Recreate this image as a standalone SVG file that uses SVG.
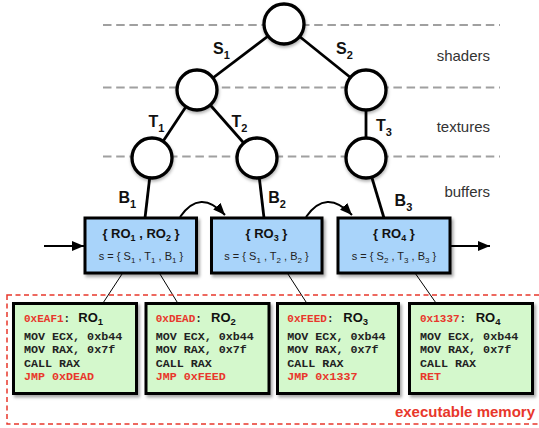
<svg xmlns="http://www.w3.org/2000/svg" width="539" height="428" viewBox="0 0 539 428">
<style>
.bg{fill:#fff}
.guide{stroke:#a0a0a0;stroke-width:2;stroke-dasharray:8.5 4.7;fill:none}
.edge{stroke:#000;stroke-width:2.8;fill:none}
.circ{fill:#fff;stroke:#000;stroke-width:3.3}
.lbl{font-family:"Liberation Sans",Arial,sans-serif;font-weight:bold;font-size:16px;fill:#111}
.layer{font-family:"Liberation Sans",Arial,sans-serif;font-size:15px;fill:#333;text-anchor:end}
.rbox{fill:#a9d4fa;stroke:#000;stroke-width:3}
.t1{font-family:"Liberation Sans",Arial,sans-serif;font-weight:bold;font-size:13px;fill:#111;text-anchor:middle}
.t2{font-family:"Liberation Sans",Arial,sans-serif;font-size:11px;fill:#222;text-anchor:middle}
.arrow{stroke:#000;stroke-width:2;fill:none}
.thin{stroke:#000;stroke-width:1;fill:none}
.mem{fill:none;stroke:#e8372b;stroke-width:1.5;stroke-dasharray:5 3.5}
.cbox{fill:#d4f8cc;stroke:#000;stroke-width:3}
.code{font-family:"Liberation Mono","Courier New",monospace;font-weight:bold;font-size:11.7px;fill:#222}
.addr{font-family:"Liberation Mono","Courier New",monospace;font-weight:bold;font-size:11px;fill:#e8372b}
.ro{font-family:"Liberation Sans",Arial,sans-serif;font-weight:bold;font-size:13px;fill:#111}
.red{fill:#e8372b}
.memlbl{font-family:"Liberation Sans",Arial,sans-serif;font-weight:bold;font-size:15px;fill:#e8372b;text-anchor:end}
</style>
<defs>
<marker id="ah" markerUnits="userSpaceOnUse" markerWidth="13" markerHeight="11" refX="12" refY="5" orient="auto">
<path d="M0,0 L12,5 L0,10 z" fill="#000"/>
</marker>
<filter id="sh" x="-10%" y="-10%" width="125%" height="130%">
<feDropShadow dx="2" dy="2.5" stdDeviation="1.8" flood-color="#000" flood-opacity="0.35"/>
</filter>
<filter id="csh" x="-20%" y="-20%" width="150%" height="150%">
<feDropShadow dx="0.5" dy="2" stdDeviation="1.5" flood-color="#000" flood-opacity="0.3"/>
</filter>
</defs>
<rect class="bg" x="0" y="0" width="539" height="428"/>

<g id="guides">
<line class="guide" x1="103" y1="25" x2="500" y2="25"/>
<line class="guide" x1="103" y1="87.5" x2="500" y2="87.5"/>
<line class="guide" x1="103" y1="156.5" x2="500" y2="156.5"/>
</g>

<g id="layer-labels">
<text class="layer" x="490" y="61">shaders</text>
<text class="layer" x="490" y="132">textures</text>
<text class="layer" x="490" y="197">buffers</text>
</g>

<g id="connectors">
<line class="edge" x1="284" y1="24" x2="197" y2="90"/>
<line class="edge" x1="284" y1="24" x2="366" y2="90"/>
<line class="edge" x1="197" y1="90" x2="152" y2="158"/>
<line class="edge" x1="197" y1="90" x2="257" y2="158"/>
<line class="edge" x1="366" y1="90" x2="366" y2="158"/>
<line class="edge" x1="152" y1="158" x2="145" y2="218"/>
<line class="edge" x1="257" y1="158" x2="264" y2="218"/>
<line class="edge" x1="366" y1="158" x2="384" y2="218"/>
<line class="arrow" x1="44" y1="246" x2="84" y2="246" marker-end="url(#ah)"/>
<line class="arrow" x1="451" y1="246" x2="490" y2="246" marker-end="url(#ah)"/>
<path class="arrow" d="M180,217 Q200,188 225,215" marker-end="url(#ah)"/>
<path class="arrow" d="M306,217 Q326,188 352,215" marker-end="url(#ah)"/>
<line class="thin" x1="122.7" y1="273" x2="103" y2="303"/>
<line class="thin" x1="159.3" y1="273" x2="177.7" y2="303"/>
<line class="thin" x1="287.3" y1="273" x2="306.7" y2="303"/>
<line class="thin" x1="415" y1="273" x2="436" y2="303"/>
</g>

<g id="edge-labels">
<text class="lbl" x="213" y="54">S<tspan font-size="11" dy="5">1</tspan></text>
<text class="lbl" x="336" y="54">S<tspan font-size="11" dy="5">2</tspan></text>
<text class="lbl" x="148.5" y="126.5">T<tspan font-size="11" dy="5">1</tspan></text>
<text class="lbl" x="231.5" y="126.5">T<tspan font-size="11" dy="5">2</tspan></text>
<text class="lbl" x="376" y="131">T<tspan font-size="11" dy="5">3</tspan></text>
<text class="lbl" x="118.5" y="203">B<tspan font-size="11" dy="5">1</tspan></text>
<text class="lbl" x="268.3" y="203">B<tspan font-size="11" dy="5">2</tspan></text>
<text class="lbl" x="394.6" y="206">B<tspan font-size="11" dy="5">3</tspan></text>
</g>

<g id="node-root"><circle class="circ" cx="284" cy="24" r="20" filter="url(#csh)"/></g>
<g id="node-s1"><circle class="circ" cx="197" cy="90" r="20" filter="url(#csh)"/></g>
<g id="node-s2"><circle class="circ" cx="366" cy="90" r="20" filter="url(#csh)"/></g>
<g id="node-t1"><circle class="circ" cx="152" cy="158" r="20" filter="url(#csh)"/></g>
<g id="node-t2"><circle class="circ" cx="257" cy="158" r="20" filter="url(#csh)"/></g>
<g id="node-t3"><circle class="circ" cx="366" cy="158" r="20" filter="url(#csh)"/></g>

<g id="state-1">
<rect class="rbox" x="85" y="218" width="111.5" height="55" filter="url(#sh)"/>
<text class="t1" x="141" y="238">{ RO<tspan font-size="9" dy="3">1</tspan><tspan dy="-3"> , RO</tspan><tspan font-size="9" dy="3">2</tspan><tspan dy="-3"> }</tspan></text>
<text class="t2" x="141" y="260">s = { S<tspan font-size="8" dy="2.5">1</tspan><tspan dy="-2.5"> , T</tspan><tspan font-size="8" dy="2.5">1</tspan><tspan dy="-2.5"> , B</tspan><tspan font-size="8" dy="2.5">1</tspan><tspan dy="-2.5"> }</tspan></text>
</g>
<g id="state-2">
<rect class="rbox" x="211.5" y="218" width="110.5" height="55" filter="url(#sh)"/>
<text class="t1" x="266.5" y="238">{ RO<tspan font-size="9" dy="3">3</tspan><tspan dy="-3"> }</tspan></text>
<text class="t2" x="266.5" y="260">s = { S<tspan font-size="8" dy="2.5">1</tspan><tspan dy="-2.5"> , T</tspan><tspan font-size="8" dy="2.5">2</tspan><tspan dy="-2.5"> , B</tspan><tspan font-size="8" dy="2.5">2</tspan><tspan dy="-2.5"> }</tspan></text>
</g>
<g id="state-3">
<rect class="rbox" x="338" y="218" width="112" height="55" filter="url(#sh)"/>
<text class="t1" x="394" y="238">{ RO<tspan font-size="9" dy="3">4</tspan><tspan dy="-3"> }</tspan></text>
<text class="t2" x="394" y="260">s = { S<tspan font-size="8" dy="2.5">2</tspan><tspan dy="-2.5"> , T</tspan><tspan font-size="8" dy="2.5">3</tspan><tspan dy="-2.5"> , B</tspan><tspan font-size="8" dy="2.5">3</tspan><tspan dy="-2.5"> }</tspan></text>
</g>

<g id="executable-memory">
<rect class="mem" x="7" y="295" width="545" height="129"/>
<text class="memlbl" x="535" y="417">executable memory</text>
</g>

<g id="code-ro1">
<rect class="cbox" x="13.5" y="303.5" width="123" height="90" filter="url(#sh)"/>
<text class="addr" x="24" y="321.5">0xEAF1<tspan fill="#222">:</tspan></text>
<text class="ro" x="78.3" y="321.5">RO<tspan font-size="9.5" dy="3">1</tspan></text>
<text class="code" x="24" y="339.5">MOV ECX, 0xb44</text>
<text class="code" x="24" y="353">MOV RAX, 0x7f</text>
<text class="code" x="24" y="366.5">CALL RAX</text>
<text class="code red" x="24" y="380">JMP 0xDEAD</text>
</g>
<g id="code-ro2">
<rect class="cbox" x="146" y="303.5" width="123" height="90" filter="url(#sh)"/>
<text class="addr" x="155.7" y="321.5">0xDEAD<tspan fill="#222">:</tspan></text>
<text class="ro" x="211" y="321.5">RO<tspan font-size="9.5" dy="3">2</tspan></text>
<text class="code" x="155.7" y="339.5">MOV ECX, 0xb44</text>
<text class="code" x="155.7" y="353">MOV RAX, 0x7f</text>
<text class="code" x="155.7" y="366.5">CALL RAX</text>
<text class="code red" x="155.7" y="380">JMP 0xFEED</text>
</g>
<g id="code-ro3">
<rect class="cbox" x="277.5" y="303.5" width="121" height="90" filter="url(#sh)"/>
<text class="addr" x="287.3" y="321.5">0xFEED<tspan fill="#222">:</tspan></text>
<text class="ro" x="343.3" y="321.5">RO<tspan font-size="9.5" dy="3">3</tspan></text>
<text class="code" x="287.3" y="339.5">MOV ECX, 0xb44</text>
<text class="code" x="287.3" y="353">MOV RAX, 0x7f</text>
<text class="code" x="287.3" y="366.5">CALL RAX</text>
<text class="code red" x="287.3" y="380">JMP 0x1337</text>
</g>
<g id="code-ro4">
<rect class="cbox" x="409.5" y="303.5" width="123" height="90" filter="url(#sh)"/>
<text class="addr" x="420" y="321.5">0x1337<tspan fill="#222">:</tspan></text>
<text class="ro" x="475.7" y="321.5">RO<tspan font-size="9.5" dy="3">4</tspan></text>
<text class="code" x="420" y="339.5">MOV ECX, 0xb44</text>
<text class="code" x="420" y="353">MOV RAX, 0x7f</text>
<text class="code" x="420" y="366.5">CALL RAX</text>
<text class="code red" x="420" y="380">RET</text>
</g>
</svg>
